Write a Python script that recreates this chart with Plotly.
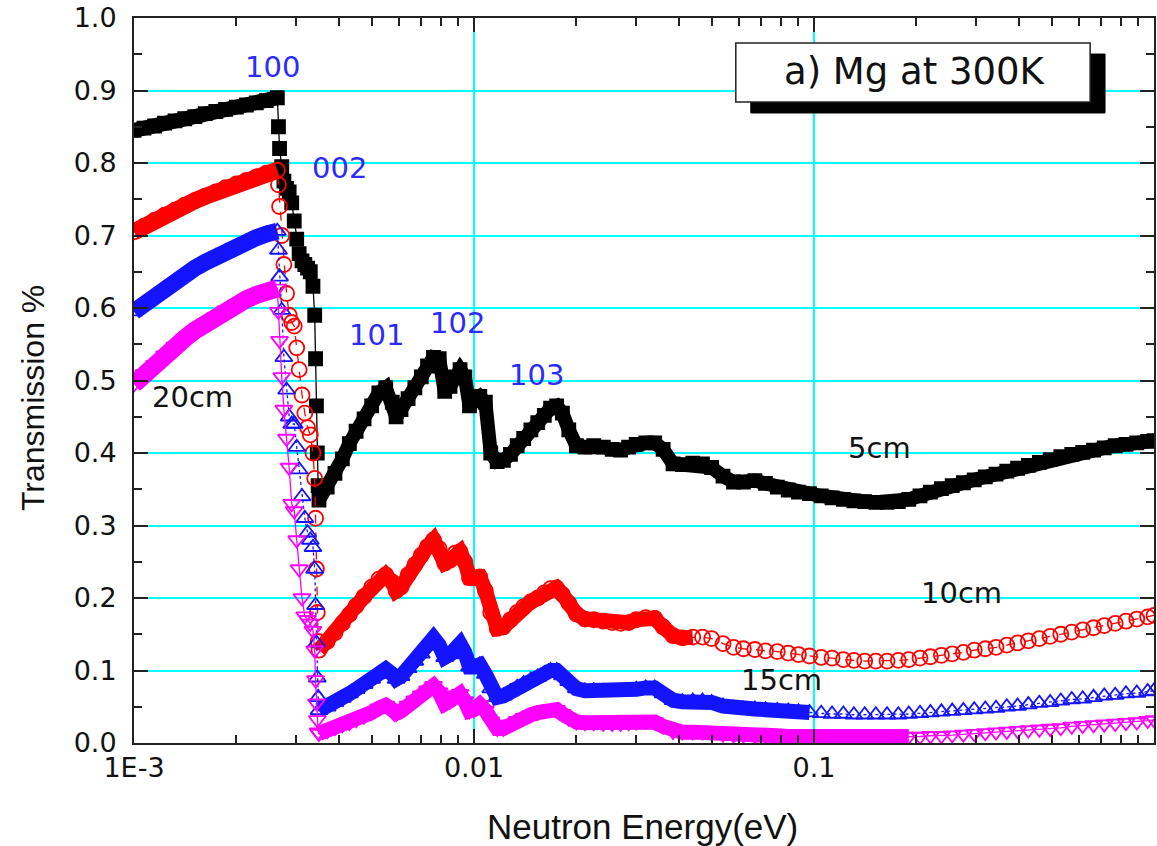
import math
import plotly.graph_objects as go

# ---------------- data ----------------
E_left = [0.00100, 0.00107, 0.00115, 0.00123, 0.00132, 0.00141, 0.00151, 0.00162,
          0.00174, 0.00186, 0.00200, 0.00214, 0.00229, 0.00245, 0.00264]
E_drop = [0.00266, 0.00268, 0.00272, 0.00276, 0.00281, 0.00286, 0.00291, 0.00296,
          0.00301, 0.00306, 0.00312, 0.00318, 0.00324, 0.00330, 0.00336, 0.00340,
          0.00342, 0.00344, 0.00346, 0.00348]
E_right = [0.00350, 0.00370, 0.00390, 0.00410, 0.00430, 0.00450, 0.00475, 0.00500, 0.00525, 0.00550,
           0.00575, 0.00590, 0.00610, 0.00640, 0.00670, 0.00700, 0.00730, 0.00760, 0.00790, 0.00820,
           0.00850, 0.00880, 0.00910, 0.00940, 0.00970, 0.0100, 0.0104, 0.0108, 0.0112, 0.0117,
           0.0122, 0.0128, 0.0134, 0.0140, 0.0147, 0.0154, 0.0161, 0.0168, 0.0175, 0.0182,
           0.0190, 0.0200, 0.0212, 0.0225, 0.0240, 0.0255, 0.0270, 0.0285, 0.0300, 0.0320,
           0.0340, 0.0360, 0.0385, 0.0410, 0.0440, 0.0470, 0.0500, 0.0540, 0.0580, 0.0620,
           0.0670, 0.0720, 0.0780, 0.0840, 0.0900, 0.0970, 0.105, 0.113, 0.122, 0.131,
           0.141, 0.152, 0.164, 0.177, 0.190, 0.205, 0.220, 0.237, 0.255, 0.275,
           0.296, 0.319, 0.343, 0.369, 0.397, 0.427, 0.460, 0.495, 0.532, 0.573,
           0.617, 0.664, 0.714, 0.769, 0.827, 0.890, 0.958, 1.000]

t5_left = [0.845, 0.848, 0.851, 0.855, 0.858, 0.861, 0.864, 0.868, 0.871, 0.874, 0.877, 0.880, 0.883, 0.886, 0.890]
t5_drop = [0.850, 0.820, 0.795, 0.775, 0.765, 0.760, 0.745, 0.720, 0.695, 0.675,
           0.665, 0.660, 0.655, 0.650, 0.630, 0.590, 0.530, 0.465, 0.400, 0.355]
t5_right = [0.335, 0.353, 0.372, 0.392, 0.413, 0.430, 0.447, 0.465, 0.483, 0.490,
            0.470, 0.450, 0.460, 0.475, 0.490, 0.505, 0.520, 0.532, 0.530, 0.485,
            0.492, 0.505, 0.515, 0.505, 0.465, 0.472, 0.478, 0.470, 0.400, 0.388,
            0.390, 0.398, 0.410, 0.420, 0.432, 0.442, 0.452, 0.462, 0.465, 0.455,
            0.432, 0.410, 0.408, 0.410, 0.408, 0.405, 0.404, 0.408, 0.412, 0.414,
            0.414, 0.405, 0.385, 0.384, 0.386, 0.385, 0.380, 0.368, 0.360, 0.360,
            0.362, 0.358, 0.353, 0.349, 0.346, 0.344, 0.341, 0.338, 0.336, 0.334,
            0.333, 0.332, 0.332, 0.333, 0.336, 0.341, 0.346, 0.351, 0.355, 0.359,
            0.363, 0.367, 0.371, 0.375, 0.379, 0.383, 0.387, 0.391, 0.395, 0.398,
            0.401, 0.404, 0.407, 0.410, 0.412, 0.414, 0.416, 0.417]

t10_left = [0.705, 0.713, 0.721, 0.728, 0.735, 0.742, 0.748, 0.754, 0.760, 0.766, 0.771, 0.776, 0.781, 0.786, 0.790]
t10_drop = [0.770, 0.740, 0.700, 0.660, 0.620, 0.590, 0.580, 0.575, 0.545, 0.515,
            0.480, 0.455, 0.435, 0.425, 0.400, 0.365, 0.310, 0.240, 0.180, 0.140]
t10_right = [0.128, 0.140, 0.152, 0.165, 0.177, 0.189, 0.202, 0.215, 0.226, 0.232,
             0.222, 0.210, 0.215, 0.232, 0.246, 0.259, 0.271, 0.280, 0.268, 0.248,
             0.252, 0.262, 0.264, 0.250, 0.228, 0.228, 0.229, 0.210, 0.180, 0.158,
             0.160, 0.170, 0.180, 0.188, 0.195, 0.200, 0.207, 0.213, 0.214, 0.205,
             0.193, 0.178, 0.171, 0.170, 0.168, 0.166, 0.165, 0.166, 0.170, 0.173,
             0.172, 0.160, 0.148, 0.145, 0.146, 0.146, 0.144, 0.137, 0.132, 0.130,
             0.129, 0.127, 0.126, 0.124, 0.122, 0.120, 0.118, 0.117, 0.115, 0.114,
             0.113, 0.113, 0.113, 0.114, 0.115, 0.117, 0.119, 0.121, 0.123, 0.125,
             0.128, 0.130, 0.132, 0.135, 0.138, 0.141, 0.144, 0.147, 0.150, 0.153,
             0.156, 0.159, 0.162, 0.165, 0.168, 0.171, 0.174, 0.176]

t15_left = [0.595, 0.606, 0.617, 0.627, 0.637, 0.646, 0.655, 0.663, 0.671, 0.678, 0.685, 0.691, 0.697, 0.702, 0.706]
t15_drop = [0.680, 0.643, 0.597, 0.532, 0.487, 0.450, 0.440, 0.440, 0.408, 0.377,
            0.340, 0.310, 0.290, 0.280, 0.270, 0.240, 0.190, 0.138, 0.090, 0.063]
t15_right = [0.045, 0.050, 0.056, 0.062, 0.068, 0.074, 0.081, 0.088, 0.096, 0.102,
             0.095, 0.088, 0.092, 0.103, 0.113, 0.123, 0.134, 0.145, 0.135, 0.118,
             0.122, 0.132, 0.137, 0.125, 0.105, 0.105, 0.108, 0.095, 0.075, 0.063,
             0.065, 0.071, 0.077, 0.082, 0.087, 0.091, 0.096, 0.100, 0.100, 0.093,
             0.085, 0.075, 0.072, 0.072, 0.071, 0.070, 0.070, 0.071, 0.074, 0.076,
             0.076, 0.068, 0.059, 0.057, 0.058, 0.058, 0.056, 0.051, 0.048, 0.047,
             0.047, 0.046, 0.045, 0.044, 0.043, 0.042, 0.041, 0.040, 0.040, 0.039,
             0.039, 0.039, 0.039, 0.039, 0.040, 0.041, 0.042, 0.043, 0.044, 0.045,
             0.046, 0.047, 0.048, 0.050, 0.051, 0.053, 0.055, 0.056, 0.058, 0.060,
             0.061, 0.063, 0.065, 0.066, 0.068, 0.069, 0.071, 0.072]

t20_left = [0.495, 0.509, 0.522, 0.535, 0.547, 0.558, 0.569, 0.579, 0.588, 0.597, 0.605, 0.612, 0.618, 0.623, 0.627]
t20_drop = [0.595, 0.555, 0.505, 0.460, 0.420, 0.380, 0.330, 0.320, 0.280, 0.240,
            0.200, 0.175, 0.170, 0.165, 0.155, 0.128, 0.087, 0.055, 0.032, 0.015]
t20_right = [0.013, 0.017, 0.021, 0.025, 0.028, 0.032, 0.037, 0.042, 0.048, 0.052,
             0.046, 0.041, 0.044, 0.052, 0.059, 0.066, 0.073, 0.079, 0.070, 0.054,
             0.058, 0.066, 0.068, 0.058, 0.044, 0.046, 0.053, 0.045, 0.030, 0.020,
             0.020, 0.026, 0.031, 0.035, 0.039, 0.042, 0.045, 0.047, 0.046, 0.040,
             0.034, 0.029, 0.028, 0.028, 0.027, 0.027, 0.027, 0.028, 0.029, 0.030,
             0.029, 0.023, 0.016, 0.015, 0.015, 0.015, 0.014, 0.012, 0.011, 0.011,
             0.010, 0.010, 0.010, 0.009, 0.009, 0.009, 0.008, 0.008, 0.008, 0.008,
             0.008, 0.008, 0.008, 0.008, 0.009, 0.009, 0.010, 0.010, 0.011, 0.012,
             0.013, 0.014, 0.015, 0.016, 0.017, 0.018, 0.019, 0.020, 0.021, 0.023,
             0.024, 0.025, 0.026, 0.027, 0.028, 0.029, 0.031, 0.032]

peak_labels = ["100", "002", "101", "102", "103"]
peak_label_E = [0.00256, 0.00402, 0.00517, 0.00893, 0.01523]
peak_label_T = [0.932, 0.793, 0.563, 0.579, 0.508]

thick_labels = ["20cm", "5cm", "10cm", "15cm"]
thick_label_E = [0.00149, 0.1558, 0.271, 0.0804]
thick_label_T = [0.477, 0.407, 0.207, 0.087]

x_tickvals = [0.001, 0.01, 0.1, 1]
x_ticktext = ["1E-3", "0.01", "0.1", "1"]
x_minor = [m * d for d in (0.001, 0.01, 0.1) for m in range(2, 10)]

# ---------------- build ----------------
E = E_left + E_drop + E_right
nL, nD, nR = len(E_left), len(E_drop), len(E_right)

series = [
    # name, left, drop, right, color, symbol, dash, msize, band_end_E, left_band_w, right_band_w
    ("5cm", t5_left, t5_drop, t5_right, "#000000", "square", "solid", 13, 1.0, 15, 14),
    ("10cm", t10_left, t10_drop, t10_right, "#ff0000", "circle-open", "dash", 15, 0.045, 17, 15),
    ("15cm", t15_left, t15_drop, t15_right, "#1414ff", "triangle-up-open", "dot", 15, 0.1, 17, 15),
    ("20cm", t20_left, t20_drop, t20_right, "#ff00ff", "triangle-down-open", "solid", 15, 0.2, 18, 15),
]

fig = go.Figure()
for name, tl, td, tr, col, sym, dash, ms, band_end, lbw, rbw in series:
    assert len(tl) == nL and len(td) == nD and len(tr) == nR, name
    T = tl + td + tr
    fig.add_trace(go.Scatter(x=E_left, y=tl, mode="lines",
                             line=dict(color=col, width=lbw),
                             hoverinfo="skip", showlegend=False))
    rx = [e for e in E_right if e <= band_end]
    ry = tr[:len(rx)]
    fig.add_trace(go.Scatter(x=rx, y=ry, mode="lines",
                             line=dict(color=col, width=rbw),
                             hoverinfo="skip", showlegend=False))
    fig.add_trace(go.Scatter(x=E, y=T, mode="lines+markers", name=name,
                             line=dict(color=col, width=1.3, dash=dash),
                             marker=dict(symbol=sym, size=ms, color=col,
                                         line=dict(color=col, width=1.8)),
                             showlegend=False))

annotations = []
for txt, xe, yt in zip(peak_labels, peak_label_E, peak_label_T):
    annotations.append(dict(x=math.log10(xe), y=yt, xref="x", yref="y", text=txt, showarrow=False,
                            xanchor="center", yanchor="middle",
                            font=dict(family="DejaVu Sans", size=29, color="#2b2bff")))
for txt, xe, yt in zip(thick_labels, thick_label_E, thick_label_T):
    annotations.append(dict(x=math.log10(xe), y=yt, xref="x", yref="y", text=txt, showarrow=False,
                            xanchor="center", yanchor="middle",
                            font=dict(family="DejaVu Sans", size=29, color="#111111")))

annotations.append(dict(x=0.766, y=0.926, xref="paper", yref="paper", text="a) Mg at 300K",
                        showarrow=False, xanchor="center", yanchor="middle",
                        font=dict(family="DejaVu Sans", size=37, color="#111111")))
annotations.append(dict(x=0.499, y=-0.1145, xref="paper", yref="paper", text="Neutron Energy(eV)",
                        showarrow=False, xanchor="center", yanchor="middle",
                        font=dict(family="Liberation Sans", size=35, color="#111111")))
annotations.append(dict(x=-0.0988, y=0.476, xref="paper", yref="paper", text="Transmission %",
                        showarrow=False, textangle=-90, xanchor="center", yanchor="middle",
                        font=dict(family="Liberation Sans", size=32, color="#111111")))

shapes = [
    dict(type="rect", xref="paper", yref="paper", x0=0.6047, x1=0.952, y0=0.869, y1=0.9503,
         fillcolor="black", line=dict(color="black", width=1), layer="above"),
    dict(type="rect", xref="paper", yref="paper", x0=0.590, x1=0.9374, y0=0.884, y1=0.9655,
         fillcolor="white", line=dict(color="#222222", width=1.5), layer="above"),
]

tickfont = dict(family="DejaVu Sans", size=27, color="#111111")
fig.update_layout(
    width=1157, height=846,
    margin=dict(l=134, r=1, t=18, b=103),
    paper_bgcolor="white", plot_bgcolor="white",
    showlegend=False,
    annotations=annotations,
    shapes=shapes,
    xaxis=dict(type="log", range=[-3, 0], tickvals=x_tickvals, ticktext=x_ticktext,
               ticks="inside", ticklen=14, tickwidth=2, tickcolor="#222222",
               showline=True, linewidth=2, linecolor="#222222", mirror="ticks",
               showgrid=True, gridcolor="#00ffff", gridwidth=2, zeroline=False,
               tickfont=tickfont,
               minor=dict(tickvals=x_minor, ticks="inside", ticklen=8, tickwidth=1.5,
                          tickcolor="#222222", showgrid=False)),
    yaxis=dict(range=[0, 1.0], tick0=0, dtick=0.1, tickformat=".1f",
               ticks="inside", ticklen=14, tickwidth=2, tickcolor="#222222",
               showline=True, linewidth=2, linecolor="#222222", mirror="ticks",
               showgrid=True, gridcolor="#00ffff", gridwidth=2, zeroline=False,
               tickfont=tickfont, ticklabelstandoff=10,
               minor=dict(dtick=0.05, ticks="inside", ticklen=8, tickwidth=1.5,
                          tickcolor="#222222", showgrid=False)),
)

fig.write_html("out.html")
